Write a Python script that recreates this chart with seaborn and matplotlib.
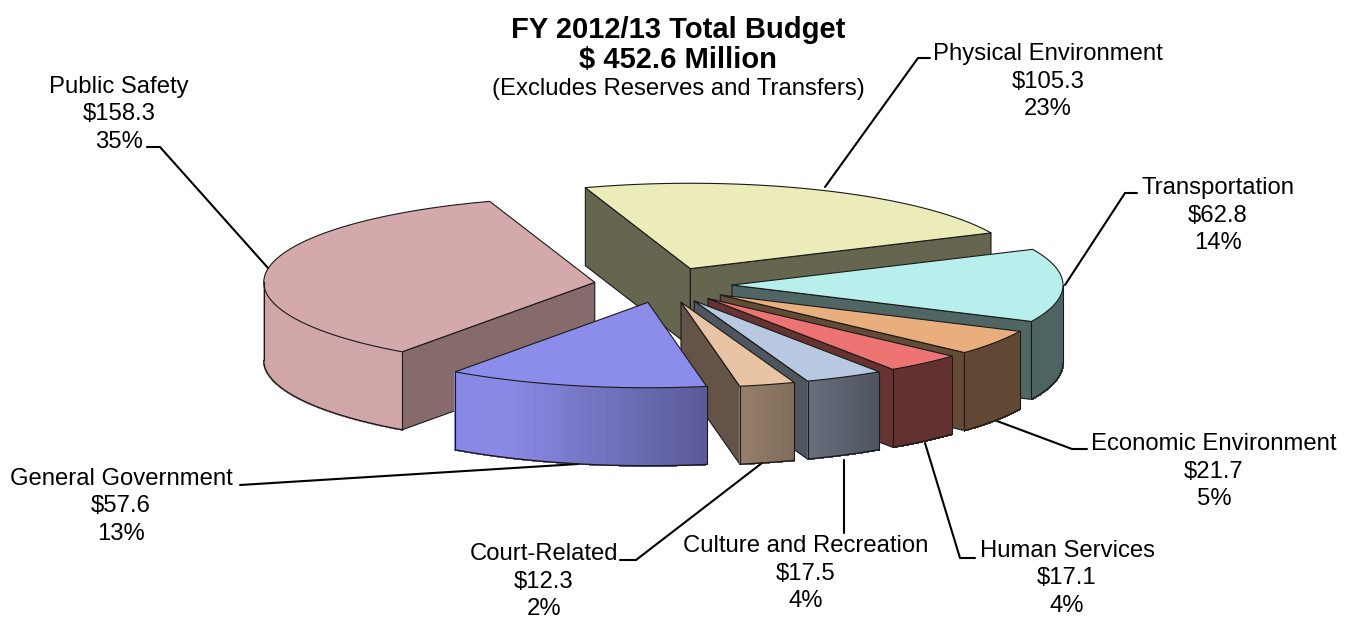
import numpy as np
import seaborn as sns
import matplotlib.pyplot as plt
from matplotlib.colors import to_rgb
from matplotlib.patches import Polygon

# budget in $ million, clockwise from the back of the pie
categories = ["Physical Environment", "Transportation", "Economic Environment", "Human Services",
              "Culture and Recreation", "Court-Related", "General Government", "Public Safety"]
values = [105.3, 62.8, 21.7, 17.1, 17.5, 12.3, 57.6, 158.3]
percents = [23, 14, 5, 4, 4, 2, 13, 35]
top_colors = ["#ECECBA", "#B8EEEC", "#E8AE7E", "#EE7474", "#B8C8E0", "#E8C4A4", "#8C8CEA", "#D4A9AB"]
title_lines = ["FY 2012/13 Total Budget", "$ 452.6 Million"]
subtitle = "(Excludes Reserves and Transfers)"

# layout of the fake 3d pie, pixels
cx, cy = 663, 285
radius = 331
squash = 0.258
explode = 69
depth = 78
start_angle = 108.5
face_shade = [0.43, 0.43, 0.43, 0.43, 0.43, 0.43, 0.43, 0.63]
draw_order = [0, 7, 1, 2, 3, 4, 5, 6]

# label centre x, first line y, leader line
label_pos = [(1048, 54), (1218, 188), (1214, 444), (1067, 551), (806, 546), (544, 554), (121, 479), (119, 87)]
leaders = [[(825, 187), (918, 58), (930, 58)],
           [(1065, 285), (1125, 193), (1137, 193)],
           [(997, 421), (1072, 449), (1087, 449)],
           [(925, 443), (960, 558), (975, 558)],
           [(844, 460), (844, 533)],
           [(762, 463), (636, 560), (620, 560)],
           [(578, 464), (240, 485)],
           [(268, 268), (160, 147), (147, 147)]]

sns.set_theme(style="white")
plt.rcParams['font.family'] = ['Liberation Sans', 'DejaVu Sans']


def shade(color, f):
    return tuple(c * f for c in to_rgb(color))


def rim_shade(t):
    # light coming from the lower left
    return np.interp(t, [-180, -115, -56, 0], [0.98, 0.98, 0.42, 0.42])


def arc(ax0, ay0, t0, t1, n=120):
    t = np.radians(np.linspace(t0, t1, n))
    return np.column_stack([ax0 + radius * np.cos(t), ay0 - radius * squash * np.sin(t)])


def draw_slice(ax, i, t0, t1):
    color = top_colors[i]
    mid = np.radians((t0 + t1) / 2)
    ax0 = cx + explode * np.cos(mid)
    ay0 = cy - explode * squash * np.sin(mid)
    top = arc(ax0, ay0, t0, t1)
    apex = np.array([ax0, ay0])
    down = np.array([0, depth])
    edge = dict(edgecolor="#1a1a1a", linewidth=0.8, joinstyle="round")

    # flat cut faces, only those turned to the viewer
    if np.sin(np.radians(t0 + 90)) < 0:
        ax.add_patch(Polygon([apex, top[0], top[0] + down, apex + down],
                             facecolor=shade(color, face_shade[i]), **edge))
    if np.sin(np.radians(t1 - 90)) < 0:
        ax.add_patch(Polygon([apex, top[-1], top[-1] + down, apex + down],
                             facecolor=shade(color, face_shade[i]), **edge))

    # outer wall, front half only
    r0, r1 = min(t0, 0), max(t1, -180)
    if r0 > r1:
        steps = np.linspace(r0, r1, max(int(r0 - r1) * 2, 4))
        for a, b in zip(steps[:-1], steps[1:]):
            s = arc(ax0, ay0, a, b, 2)
            c = shade(color, rim_shade((a + b) / 2))
            ax.add_patch(Polygon([s[0], s[1], s[1] + down, s[0] + down], facecolor=c, edgecolor=c,
                                 linewidth=0.8, antialiased=False))
        wall = arc(ax0, ay0, r0, r1)
        ax.plot(wall[:, 0], wall[:, 1] + depth, color="#1a1a1a", lw=1.0, solid_capstyle="round")
        for p in (wall[0], wall[-1]):
            ax.plot([p[0], p[0]], [p[1], p[1] + depth], color="#1a1a1a", lw=0.8)

    ax.add_patch(Polygon(np.vstack([apex, top]), facecolor=color, **edge))


fig = plt.figure(figsize=(13.55, 6.18), dpi=100)
ax = fig.add_axes([0, 0, 1, 1])
ax.set_xlim(0, 1355)
ax.set_ylim(618, 0)
ax.set_axis_off()

sweeps = 360 * np.array(values) / np.sum(values)
edges = start_angle - np.concatenate([[0], np.cumsum(sweeps)])

for line in leaders:
    xs, ys = zip(*line)
    ax.plot(xs, ys, color="black", lw=1.5, solid_joinstyle="round")

for i in draw_order:
    draw_slice(ax, i, edges[i], edges[i + 1])

for i, name in enumerate(categories):
    x, y = label_pos[i]
    for k, txt in enumerate([name, "${:.1f}".format(values[i]), "{}%".format(percents[i])]):
        ax.text(x, y + k * 27.5, txt, ha="center", va="center", fontsize=17.2, color="black")

ax.text(678, 30, title_lines[0], ha="center", va="center", fontsize=21, fontweight="bold", color="black")
ax.text(678, 60, title_lines[1], ha="center", va="center", fontsize=21, fontweight="bold", color="black")
ax.text(678, 89, subtitle, ha="center", va="center", fontsize=17.2, color="black")

plt.savefig("out.png", dpi=100)
